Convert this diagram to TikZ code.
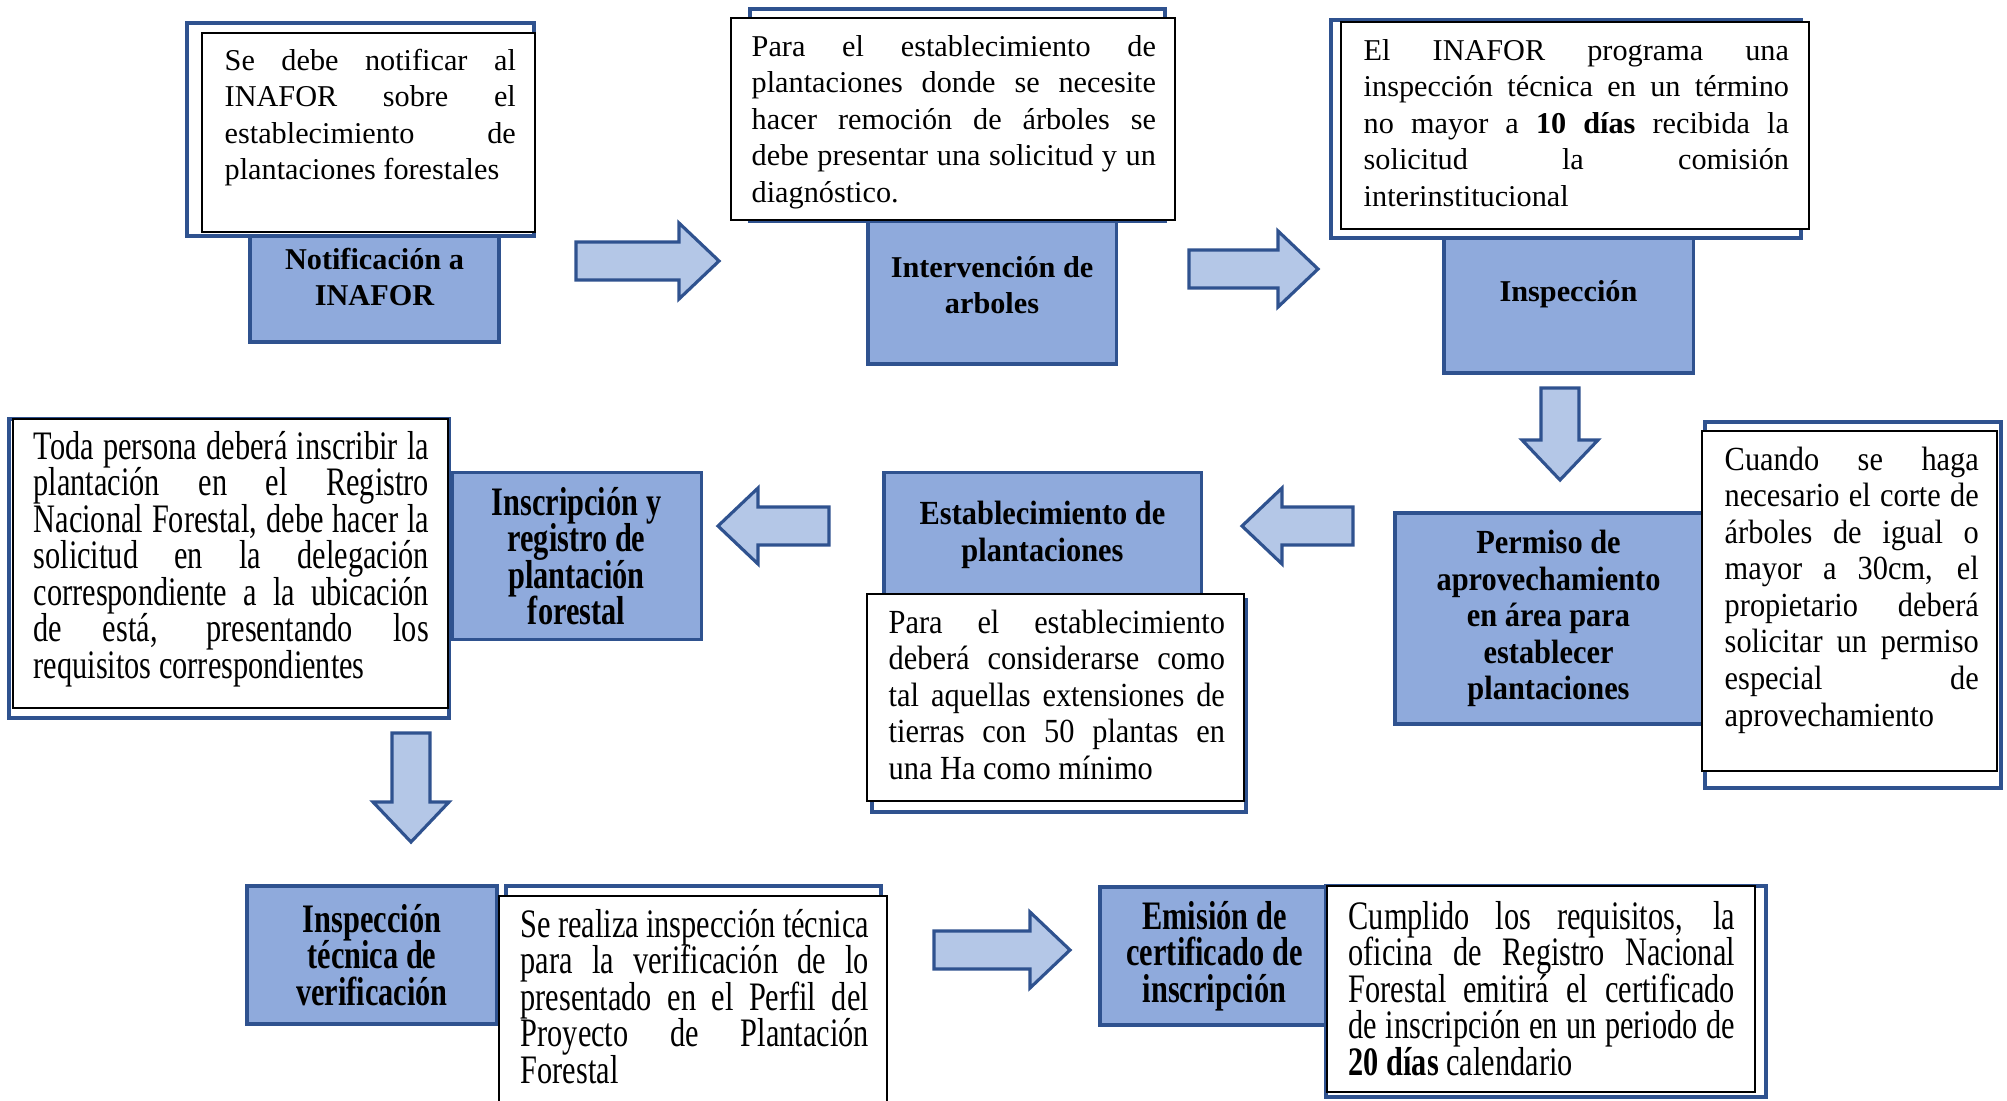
\documentclass[tikz,border=0pt]{standalone}
\usepackage{fontspec}
\setmainfont{Liberation Serif}
\newfontfamily\midserif[FakeStretch=0.9]{Liberation Serif}
\newfontfamily\slimserif[FakeStretch=0.75]{Liberation Serif}
\usepackage{tikz}
\usepackage{xcolor}
\definecolor{boxfill}{RGB}{143,170,220}
\definecolor{boxline}{RGB}{47,82,143}
\definecolor{arrowfill}{RGB}{180,199,231}
\hyphenpenalty=10000
\exhyphenpenalty=10000
\tolerance=9999
\newcommand{\fontA}{\fontsize{8.6}{10.4}\selectfont\lineskiplimit=-20pt}
\newcommand{\fontB}{\midserif\fontsize{9.6}{10.4}\selectfont\lineskiplimit=-20pt}
\newcommand{\fontC}{\slimserif\fontsize{11.5}{10.4}\selectfont\lineskiplimit=-20pt}
\tikzset{%
    labelbox/.style={draw=boxline,fill=boxfill,line width=0.9pt,align=center,inner sep=0pt},
    noteframe/.style={draw=boxline,fill=white,line width=0.9pt},
    notebox/.style={draw=black,fill=white,line width=0.6pt},
    notetext/.style={inner sep=0pt,anchor=base west,align=justify},
    arrowshape/.style={draw=boxline,fill=arrowfill,line width=0.9pt,line join=miter}
}
% tail x, tail y, length, rotation
\newcommand{\bigarrow}[4]{%
    \draw[arrowshape,shift={(#1,#2)},rotate=#4]
    (0,-19) -- ({#3-40},-19) -- ({#3-40},-38) -- (#3,0) -- ({#3-40},38) -- ({#3-40},19) -- (0,19) -- cycle;}

\begin{document}
\begin{tikzpicture}[x=0.01cm,y=-0.01cm]
    \useasboundingbox (0,0) rectangle (2007,1100);
    % steps
    \node[labelbox,font=\fontA\bfseries,minimum width=24.9mm,minimum height=13mm] (notif) at (374.5,277) {Notificación a\\INAFOR};
    \node[labelbox,font=\fontA\bfseries,minimum width=24.8mm,minimum height=15.8mm] (interv) at (992,285) {Intervención de\\arboles};
    \node[labelbox,font=\fontA\bfseries,minimum width=24.9mm,minimum height=15.8mm] (insp) at (1568.5,294) {Inspección};
    \node[labelbox,font=\fontB\bfseries,minimum width=30.7mm,minimum height=21.1mm] (permiso) at (1548.5,618.5) {Permiso de\\aprovechamiento\\en área para\\establecer\\plantaciones};
    \node[labelbox,font=\fontB\bfseries,minimum width=31.7mm,minimum height=12.5mm] (estab) at (1042.5,535) {Establecimiento de\\plantaciones};
    \node[labelbox,font=\fontC\bfseries,minimum width=24.9mm,minimum height=16.7mm] (inscr) at (576.5,556) {Inscripción y\\registro de\\plantación\\forestal};
    \node[labelbox,font=\fontC\bfseries,minimum width=25mm,minimum height=13.8mm] (verif) at (372,955) {Inspección\\técnica de\\verificación};
    \node[labelbox,font=\fontC\bfseries,minimum width=22.9mm,minimum height=13.8mm] (emis) at (1214.5,956) {Emisión de\\certificado de\\inscripción};

    % notes
    \draw[noteframe] (187,23) rectangle (534,236);
    \draw[notebox] (202,33) rectangle (535,232);
    \node[notetext,font=\fontA,text width=29.1mm] (notifnote) at (224,70) {Se debe notificar al\linebreak INAFOR sobre el\linebreak establecimiento de\linebreak plantaciones forestales};

    \draw[noteframe] (750,9) rectangle (1165,221);
    \draw[notebox] (731,18) rectangle (1175,220);
    \node[notetext,font=\fontA,text width=40.4mm] (intervnote) at (751,56) {Para el establecimiento de\linebreak plantaciones donde se necesite\linebreak hacer remoción de árboles se\linebreak debe presentar una solicitud y un\linebreak diagnóstico.};

    \draw[noteframe] (1331,20) rectangle (1801,238);
    \draw[notebox] (1341,22) rectangle (1809,229);
    \node[notetext,font=\fontA,text width=42.5mm] (inspnote) at (1363,60) {El INAFOR programa una\linebreak inspección técnica en un término\linebreak no mayor a \textbf{10 días} recibida la\linebreak solicitud la comisión\linebreak interinstitucional};

    \draw[noteframe] (1705,422) rectangle (2001,788);
    \draw[notebox] (1702,431) rectangle (1997,771);
    \node[notetext,font=\fontB,text width=25.4mm] (permisonote) at (1724,470) {Cuando se haga\linebreak necesario el corte de\linebreak árboles de igual o\linebreak mayor a 30cm, el\linebreak propietario deberá\linebreak solicitar un permiso\linebreak especial de\linebreak aprovechamiento};

    \draw[noteframe] (872,600) rectangle (1246,812);
    \draw[notebox] (867,594) rectangle (1244,801);
    \node[notetext,font=\fontB,text width=33.6mm] (estabnote) at (888,633) {Para el establecimiento\linebreak deberá considerarse como\linebreak tal aquellas extensiones de\linebreak tierras con 50 plantas en\linebreak una Ha como mínimo};

    \draw[noteframe] (9,419) rectangle (449,718);
    \draw[notebox] (13,419) rectangle (448,708);
    \node[notetext,font=\fontC,text width=39.5mm] (inscrnote) at (33,459) {Toda persona deberá inscribir la\linebreak plantación en el Registro\linebreak Nacional Forestal, debe hacer la\linebreak solicitud en la delegación\linebreak correspondiente a la ubicación\linebreak de está, presentando los\linebreak requisitos correspondientes};

    \draw[noteframe] (506,886) rectangle (881,1120);
    \draw[notebox] (499,896) rectangle (887,1130);
    \node[notetext,font=\fontC,text width=34.8mm] (verifnote) at (520,937) {Se realiza inspección técnica\linebreak para la verificación de lo\linebreak presentado en el Perfil del\linebreak Proyecto de Plantación\linebreak Forestal};

    \draw[noteframe] (1326,886) rectangle (1766,1097);
    \draw[notebox] (1327,886) rectangle (1755,1092);
    \node[notetext,font=\fontC,text width=38.6mm] (emisnote) at (1348,929) {Cumplido los requisitos, la\linebreak oficina de Registro Nacional\linebreak Forestal emitirá el certificado\linebreak de inscripción en un periodo de\linebreak \textbf{20 días} calendario};

    % flow arrows
    \bigarrow{576}{261}{143}{0}
    \bigarrow{1189}{269}{129}{0}
    \bigarrow{1560}{388}{92}{-90}
    \bigarrow{1353}{526}{111}{180}
    \bigarrow{829}{526}{111}{180}
    \bigarrow{411}{733}{109}{-90}
    \bigarrow{934}{950}{136}{0}
\end{tikzpicture}
\end{document}
